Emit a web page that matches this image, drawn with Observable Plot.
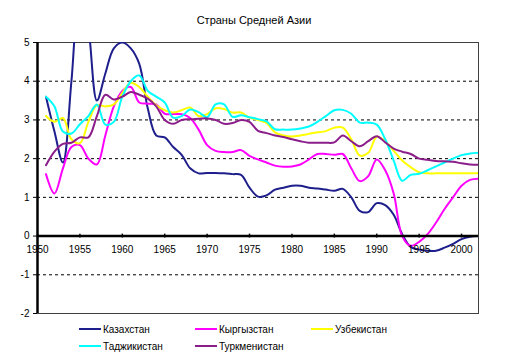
<!DOCTYPE html>
<html>
<head>
<meta charset="utf-8">
<script src="https://cdn.jsdelivr.net/npm/d3@7"></script>
<script src="https://cdn.jsdelivr.net/npm/@observablehq/plot@0.6"></script>
<style>
  html, body { margin: 0; padding: 0; background: #fff; }
  #wrap { position: relative; width: 508px; height: 361px; font-family: "Liberation Sans", Arial, sans-serif; }
  #title { position: absolute; left: 0; width: 508px; top: 14px; text-align: center; font-size: 11px; color: #000; }
  .leg { position: absolute; font-size: 10px; color: #000; display: flex; align-items: center; white-space: nowrap; }
  .sw { display: inline-block; width: 22px; height: 2px; margin-right: 2px; }
  svg { position: absolute; left: 0; top: 0; }
</style>
</head>
<body>
<div id="wrap"><div id="title"></div></div>
<script>
const title = "Страны Средней Азии";
const years = [1951,1952,1953,1954,1955,1956,1957,1958,1959,1960,1961,1962,1963,1964,1965,1966,1967,1968,1969,1970,
  1971,1972,1973,1974,1975,1976,1977,1978,1979,1980,1981,1982,1983,1984,1985,1986,1987,1988,1989,1990,
  1991,1992,1993,1994,1995,1996,1997,1998,1999,2000,2001,2002];
const seriesNames = ["Казахстан", "Кыргызстан", "Узбекистан", "Таджикистан", "Туркменистан"];
const seriesColors = ["#1E1E8C", "#FF00FF", "#FFFF00", "#00FFFF", "#8B1E8B"];
const kazakhstan = [3.6,2.7,1.9,4.0,6.5,5.4,3.5,4.2,4.85,5.0,4.85,4.45,3.3,2.6,2.55,2.3,2.1,1.75,1.62,1.63,
  1.63,1.62,1.6,1.58,1.25,1.02,1.05,1.2,1.25,1.3,1.3,1.25,1.23,1.2,1.17,1.22,1.0,0.65,0.62,0.85,
  0.8,0.55,0.05,-0.28,-0.35,-0.38,-0.38,-0.3,-0.2,-0.08,-0.02,0.0];
const kyrgyzstan = [1.6,1.1,1.75,2.3,2.35,2.0,1.85,2.6,3.35,3.75,3.85,3.45,3.42,3.4,3.16,3.15,3.15,3.05,2.75,2.35,
  2.2,2.17,2.17,2.22,2.07,1.98,1.9,1.82,1.79,1.8,1.85,1.98,2.12,2.12,2.1,2.12,1.75,1.42,1.55,1.98,
  1.7,1.1,0.0,-0.25,-0.15,0.05,0.35,0.7,1.0,1.3,1.45,1.48];
const uzbekistan = [3.1,2.95,3.05,2.5,2.4,2.95,3.38,3.35,3.4,3.7,3.96,3.85,3.6,3.38,3.25,3.19,3.25,3.32,3.1,3.15,
  3.3,3.28,3.19,3.19,3.06,3.0,2.92,2.68,2.6,2.57,2.6,2.64,2.68,2.71,2.8,2.8,2.5,2.08,2.15,2.56,
  2.45,2.2,1.95,1.78,1.65,1.62,1.62,1.62,1.62,1.62,1.62,1.62];
const tajikistan = [3.6,3.35,2.7,2.65,2.89,3.1,3.4,2.88,2.95,3.6,4.0,4.15,3.75,3.6,3.45,3.06,3.1,3.27,3.2,3.07,
  3.4,3.4,3.08,3.12,3.07,3.02,2.96,2.76,2.75,2.75,2.78,2.83,2.95,3.1,3.25,3.26,3.16,2.93,2.93,2.88,
  2.5,1.95,1.43,1.58,1.61,1.7,1.8,1.9,2.0,2.09,2.13,2.15];
const turkmenistan = [1.83,2.18,2.38,2.41,2.55,2.55,3.1,3.65,3.53,3.6,3.72,3.65,3.55,3.35,3.0,2.9,3.0,3.02,3.03,3.04,
  3.0,2.9,2.92,3.0,2.95,2.72,2.66,2.6,2.56,2.5,2.45,2.41,2.41,2.41,2.42,2.6,2.45,2.32,2.45,2.58,
  2.42,2.26,2.18,2.12,2.0,1.97,1.94,1.93,1.92,1.88,1.85,1.84];
const xTicks = [1950,1955,1960,1965,1970,1975,1980,1985,1990,1995,2000];
const yTicks = [-2,-1,0,1,2,3,4,5];
const gridLevels = [-1,1,2,3,4];

const allSeries = [kazakhstan, kyrgyzstan, uzbekistan, tajikistan, turkmenistan];
const rows = [];
allSeries.forEach((vals, i) => vals.forEach((v, j) => rows.push({name: seriesNames[i], year: years[j], value: v})));

document.getElementById("title").textContent = title;

const chart = Plot.plot({
  width: 508,
  height: 361,
  marginLeft: 37,
  marginRight: 30,
  marginTop: 42,
  marginBottom: 48,
  style: {fontFamily: "Liberation Sans, Arial, sans-serif", fontSize: "10px", background: "transparent", overflow: "visible"},
  x: {domain: [1950, 2002], axis: null},
  y: {domain: [-2, 5], ticks: yTicks, tickFormat: d => String(d), tickSize: 4, tickPadding: 4, label: null},
  color: {domain: seriesNames, range: seriesColors},
  marks: [
    Plot.ruleY(gridLevels, {stroke: "#000", strokeDasharray: "3,3", strokeWidth: 1}),
    Plot.frame({stroke: "#404040", strokeWidth: 1}),
    ...seriesNames.map(n => Plot.line(rows.filter(r => r.name === n), {
      x: "year", y: "value", stroke: "name", strokeWidth: 2, curve: "catmull-rom", clip: true
    })),
    Plot.ruleY([0], {stroke: "#000", strokeWidth: 2.5}),
    Plot.ruleX([1950], {stroke: "#000", strokeWidth: 2.5}),
    Plot.ruleX(xTicks, {x: d => d, y1: -0.05, y2: 0.05, stroke: "#000", strokeWidth: 1.5}),
    Plot.text(xTicks, {x: d => d, y: 0, dy: 14, text: d => String(d), fill: "#000", fontSize: 10})
  ]
});
const wrap = document.getElementById("wrap");
wrap.appendChild(chart);

const legPos = [[79, 323], [195, 323], [311, 323], [79, 340], [195, 340]];
seriesNames.forEach((n, i) => {
  const d = document.createElement("div");
  d.className = "leg";
  d.style.left = legPos[i][0] + "px";
  d.style.top = legPos[i][1] + "px";
  d.style.height = "12px";
  const sw = document.createElement("span");
  sw.className = "sw";
  sw.style.background = seriesColors[i];
  d.appendChild(sw);
  d.appendChild(document.createTextNode(n));
  wrap.appendChild(d);
});
</script>
</body>
</html>
